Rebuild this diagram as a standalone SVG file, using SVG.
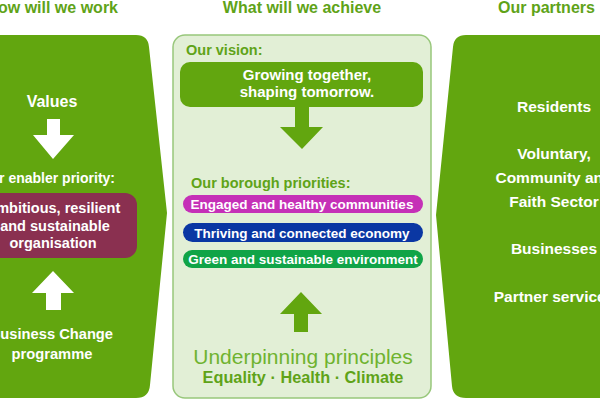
<svg xmlns="http://www.w3.org/2000/svg" width="600" height="400" viewBox="0 0 600 400">
<style>
text{font-family:"Liberation Sans",Arial,sans-serif;font-weight:bold}
.title{font-size:16px;fill:#5fa318}
.w{fill:#ffffff;font-size:15.5px}
.m{fill:#ffffff;font-size:14.5px}
.g{fill:#5fa318;font-size:14.5px}
.pill{fill:#ffffff;font-size:13.5px}
.panel{fill:#62a60f}
.arrW{fill:#ffffff}
.arrG{fill:#62a60f}
</style>
<rect width="600" height="400" fill="#ffffff"/>
<g id="titles">
<text class="title" x="118" y="13" text-anchor="end">How will we work</text>
<text class="title" x="302" y="13" text-anchor="middle">What will we achieve</text>
<text class="title" x="498" y="13">Our partners</text>
</g>
<g id="left-panel">
<path class="panel" d="M -20 35 L 136 35 Q 148 35 149 47 L 167 213 L 150 385 Q 149 398 136 398 L -20 398 Z"/>
<text class="w" x="52" y="107" text-anchor="middle" style="font-size:16px">Values</text>
<path class="arrW" d="M 47 119 L 60 119 L 60 135 L 74 135 L 53 159 L 33 135 L 47 135 Z"/>
<text class="w" x="115" y="183" text-anchor="end" style="font-size:14px">Our enabler priority:</text>
<rect x="-20" y="193" width="157" height="65" rx="12" fill="#8a3050"/>
<text class="m" x="53" y="213" text-anchor="middle">Ambitious, resilient</text>
<text class="m" x="55" y="231" text-anchor="middle">and sustainable</text>
<text class="m" x="53" y="248" text-anchor="middle">organisation</text>
<path class="arrW" d="M 53 271 L 74 293 L 61 293 L 61 310 L 46 310 L 46 293 L 32 293 Z"/>
<text class="w" x="113" y="339" text-anchor="end" style="font-size:14.7px">Business Change</text>
<text class="w" x="52" y="359" text-anchor="middle" style="font-size:14.7px">programme</text>
</g>
<g id="middle-panel">
<rect x="173" y="35" width="258" height="363" rx="12" fill="#e2efd6" stroke="#98c77b" stroke-width="1.5"/>
<text class="g" x="186" y="55">Our vision:</text>
<rect x="180" y="62" width="243" height="45" rx="10" fill="#62a60f"/>
<text class="w" x="307" y="80" text-anchor="middle" style="font-size:15px">Growing together,</text>
<text class="w" x="307" y="97" text-anchor="middle" style="font-size:15px">shaping tomorrow.</text>
<path class="arrG" d="M 295 107 L 309 107 L 309 127 L 323 127 L 302 149 L 280 127 L 295 127 Z"/>
<text class="g" x="191" y="188">Our borough priorities:</text>
<g id="priority-1">
<rect x="183" y="195" width="240" height="18" rx="9" fill="#c530b7"/>
<text class="pill" x="302" y="208.5" text-anchor="middle">Engaged and healthy communities</text>
</g>
<g id="priority-2">
<rect x="183" y="223" width="240" height="19" rx="9.5" fill="#0a37a3"/>
<text class="pill" x="302" y="237.5" text-anchor="middle">Thriving and connected economy</text>
</g>
<g id="priority-3">
<rect x="183" y="250" width="240" height="18" rx="9" fill="#10a447"/>
<text class="pill" x="303" y="264" text-anchor="middle">Green and sustainable environment</text>
</g>
<path class="arrG" d="M 301 292 L 322 314 L 308 314 L 308 332 L 294 332 L 294 314 L 280 314 Z"/>
<text x="303" y="364" text-anchor="middle" style="font-size:21px;font-weight:normal" fill="#6fb330">Underpinning principles</text>
<text x="303" y="383" text-anchor="middle" style="font-size:16.3px" fill="#5fa318">Equality · Health · Climate</text>
</g>
<g id="right-panel">
<path class="panel" d="M 620 35 L 466 35 Q 454 35 453 47 L 436 215 L 452 386 Q 453 398 466 398 L 620 398 Z"/>
<text class="w" x="554" y="112" text-anchor="middle">Residents</text>
<text class="w" x="554" y="159" text-anchor="middle">Voluntary,</text>
<text class="w" x="554" y="183" text-anchor="middle">Community and</text>
<text class="w" x="554" y="207" text-anchor="middle">Faith Sector</text>
<text class="w" x="554" y="254" text-anchor="middle">Businesses</text>
<text class="w" x="554" y="302" text-anchor="middle">Partner services</text>
</g>
</svg>
